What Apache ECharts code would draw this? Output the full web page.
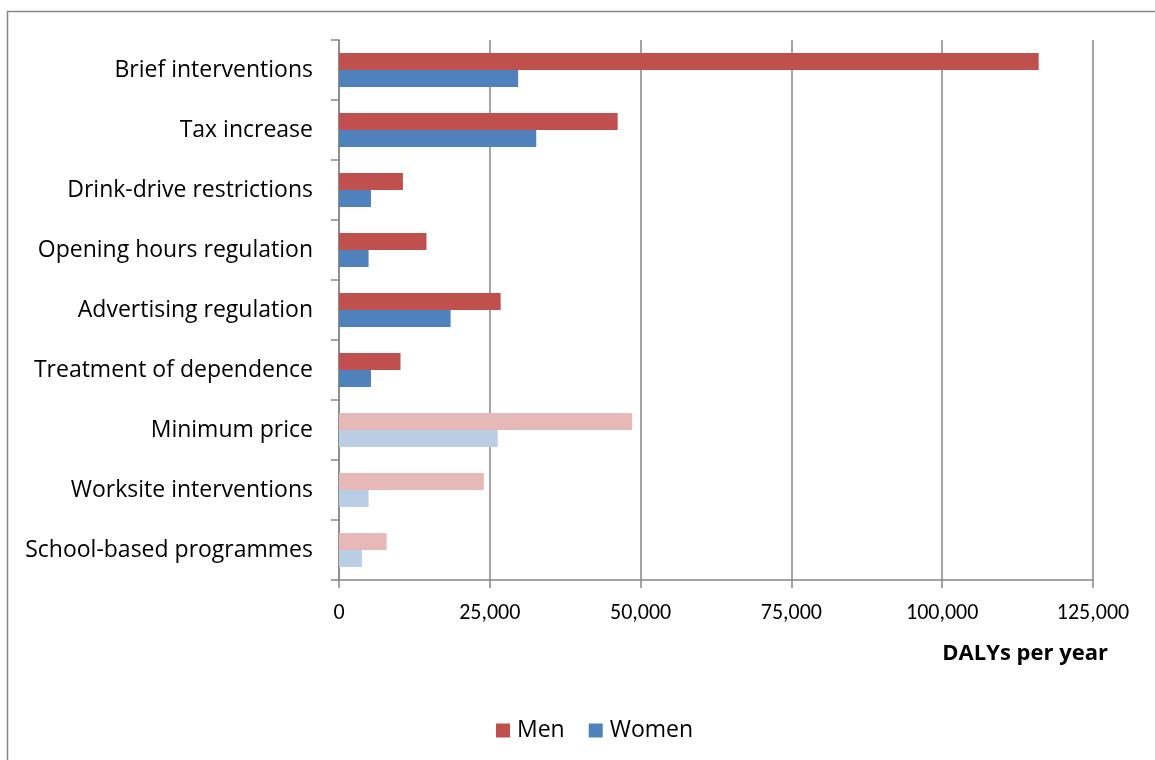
<!DOCTYPE html>
<html><head><meta charset="utf-8">
<script src="https://cdn.jsdelivr.net/npm/echarts@6/dist/echarts.min.js"></script>
<style>html,body{margin:0;padding:0;background:#fff}#c{width:1155px;height:760px}</style>
</head><body><div id="c"></div>
<script>
const categories = ["Brief interventions","Tax increase","Drink-drive restrictions","Opening hours regulation","Advertising regulation","Treatment of dependence","Minimum price","Worksite interventions","School-based programmes"];
const men =   [116000, 46200, 10600, 14500, 26800, 10200, 48600, 24000, 7900];
const women = [29700, 32700, 5300, 4900, 18500, 5300, 26300, 4900, 3800];
const lightFrom = 6; // categories from this index are shown in pale colours
const xTicks = [0, 25000, 50000, 75000, 100000, 125000];

const tickFont = "Carlito, 'Open Sans', sans-serif";
const labelFont = "'Open Sans', sans-serif";
const menColor = "#c0504d", menLight = "#e6b9b8";
const womenColor = "#4f81bd", womenLight = "#b9cde5";

function styled(vals, dark, light) {
  return vals.map((v, i) => ({ value: v, itemStyle: { color: i >= lightFrom ? light : dark } }));
}

const chart = echarts.init(document.getElementById('c'), null, {renderer: 'canvas'});
chart.setOption({
  animation: false,
  graphic: [{
    type: 'rect', shape: {x: 7.5, y: 11.5, width: 1160, height: 760},
    style: {fill: 'none', stroke: '#868686', lineWidth: 1.5}, silent: true
  }, {
    type: 'text', right: 47, top: 643,
    style: {text: 'DALYs per year', font: "bold 22px 'Open Sans', sans-serif", fill: '#000'}, silent: true
  }],
  grid: {left: 339, right: 62, top: 40, bottom: 180, containLabel: false},
  legend: {
    data: [{name: 'Men', itemStyle: {color: menColor}}, {name: 'Women', itemStyle: {color: womenColor}}],
    left: 491, top: 714, itemWidth: 14, itemHeight: 14, itemGap: 24, icon: 'rect',
    textStyle: {fontFamily: labelFont, fontSize: 23, color: '#000', padding: [0, 0, 0, 2]}
  },
  xAxis: {
    type: 'value', min: xTicks[0], max: xTicks[xTicks.length - 1], interval: 25000,
    axisLine: {show: true, lineStyle: {color: '#868686', width: 1.5}},
    axisTick: {show: true, length: 8, lineStyle: {color: '#868686', width: 1.5}},
    axisLabel: {fontFamily: tickFont, fontSize: 22, color: '#000', margin: 22,
      formatter: v => v.toLocaleString('en-US')},
    splitLine: {show: true, lineStyle: {color: '#868686', width: 1.5}}
  },
  yAxis: {
    type: 'category', data: categories, inverse: true,
    axisLine: {show: true, lineStyle: {color: '#868686', width: 1.5}},
    axisTick: {show: true, length: 8, alignWithLabel: false, lineStyle: {color: '#868686', width: 1.5}},
    axisLabel: {fontFamily: labelFont, fontSize: 23, color: '#000', margin: 26, padding: [4, 0, 0, 0]}
  },
  series: [
    {name: 'Men', type: 'bar', data: styled(men, menColor, menLight), barWidth: 17, barGap: '0%', itemStyle: {color: menColor}},
    {name: 'Women', type: 'bar', data: styled(women, womenColor, womenLight), barWidth: 17, barGap: '0%', itemStyle: {color: womenColor}}
  ]
});
</script></body></html>
